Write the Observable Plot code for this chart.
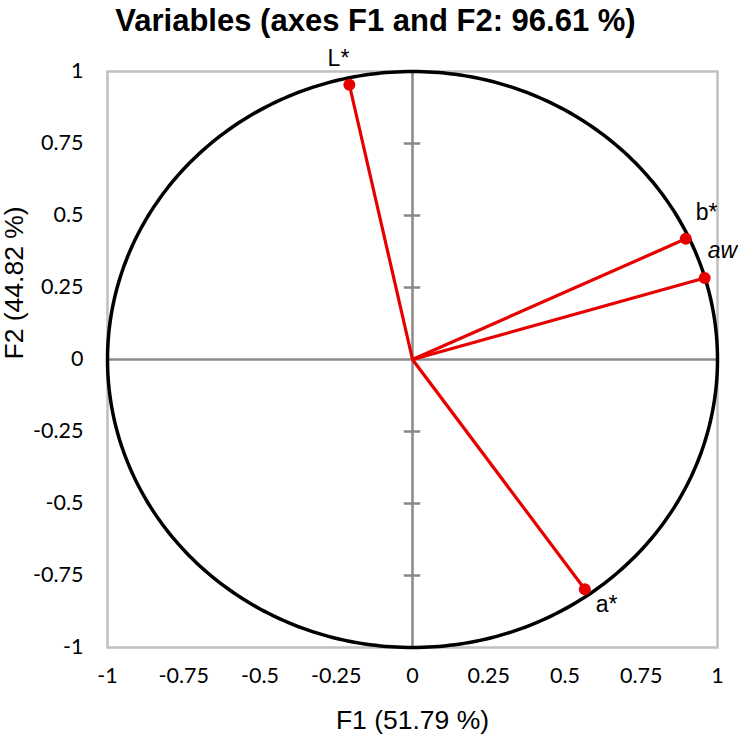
<!DOCTYPE html>
<html>
<head>
<meta charset="utf-8">
<script src="https://cdn.jsdelivr.net/npm/d3@7"></script>
<script src="https://cdn.jsdelivr.net/npm/@observablehq/plot@0.6"></script>
<style>
  html, body { margin: 0; padding: 0; background: #fff; }
</style>
</head>
<body>
<div id="chart"></div>
<script>
// Data
const variables = ["L*", "b*", "aw", "a*"];
const f1 = [-0.207, 0.896, 0.958, 0.565];
const f2 = [0.954, 0.419, 0.283, -0.798];
const tickValues = [-1, -0.75, -0.5, -0.25, 0, 0.25, 0.5, 0.75, 1];
const innerTicks = [-0.75, -0.5, -0.25, 0.25, 0.5, 0.75];
const titleText = "Variables (axes F1 and F2: 96.61 %)";
const xTitle = "F1 (51.79 %)";
const yTitle = "F2 (44.82 %)";

const points = variables.map((v, i) => ({name: v, x: f1[i], y: f2[i]}));
// label offsets (styling)
const labelStyle = {
  "L*": {dx: 0, dy: -26, anchor: "end", italic: false},
  "b*": {dx: 10, dy: -26, anchor: "start", italic: false},
  "aw": {dx: 3, dy: -27, anchor: "start", italic: true},
  "a*": {dx: 11, dy: 15, anchor: "start", italic: false}
};

// Unit correlation circle (reference geometry)
const circle = d3.range(0, 361).map(a => ({x: Math.cos(a * Math.PI / 180), y: Math.sin(a * Math.PI / 180)}));

const red = "#e60000";
const labelMarks = points.map(p => {
  const s = labelStyle[p.name];
  return Plot.text([p], {
    x: "x", y: "y", text: "name",
    dx: s.dx, dy: s.dy, textAnchor: s.anchor,
    fontStyle: s.italic ? "italic" : "normal",
    fontSize: 23, fill: "#000", fontFamily: "Liberation Sans, Arial, sans-serif"
  });
});

const chart = Plot.plot({
  width: 738,
  height: 734,
  marginLeft: 107,
  marginRight: 21,
  marginTop: 71,
  marginBottom: 87,
  style: {fontFamily: "Lato, sans-serif", background: "#fff", overflow: "visible"},
  x: {domain: [-1, 1]},
  y: {domain: [-1, 1]},
  marks: [
    Plot.frame({stroke: "#c0c0c0", strokeWidth: 2.5}),
    Plot.ruleX([0], {stroke: "#898989", strokeWidth: 2.5}),
    Plot.ruleY([0], {stroke: "#898989", strokeWidth: 2.5}),
    Plot.ruleY(innerTicks, {y: d => d, x1: -0.027, x2: 0.027, stroke: "#898989", strokeWidth: 2.5}),
    Plot.line(circle, {x: "x", y: "y", stroke: "#000", strokeWidth: 3.5}),
    Plot.link(points, {x1: 0, y1: 0, x2: "x", y2: "y", stroke: red, strokeWidth: 3.2}),
    Plot.dot(points, {x: "x", y: "y", r: 6, fill: red, stroke: "none"}),
    ...labelMarks,
    Plot.axisX({ticks: tickValues, tickSize: 0, tickPadding: 20, tickFormat: d => String(d), fontSize: 21.5, fontFamily: "Lato, sans-serif", fill: "#000", label: null}),
    Plot.axisY({ticks: tickValues, tickSize: 0, tickPadding: 24, tickFormat: d => String(d), fontSize: 21.5, fontFamily: "Lato, sans-serif", fill: "#000", label: null}),
    Plot.text([xTitle], {frameAnchor: "bottom", dy: 73, text: d => d, fontSize: 26.5, fontFamily: "Liberation Sans, Arial, sans-serif", fill: "#000", lineAnchor: "middle"}),
    Plot.text([yTitle], {frameAnchor: "left", dx: -93, rotate: -90, text: d => d, fontSize: 26.5, fontFamily: "Liberation Sans, Arial, sans-serif", fill: "#000", lineAnchor: "middle"}),
    Plot.text([titleText], {frameAnchor: "top", dx: -37, dy: -50, text: d => d, fontSize: 31, fontWeight: "bold", fontFamily: "Liberation Sans, Arial, sans-serif", fill: "#000", lineAnchor: "middle"})
  ]
});
document.getElementById("chart").appendChild(chart);
</script>
</body>
</html>
